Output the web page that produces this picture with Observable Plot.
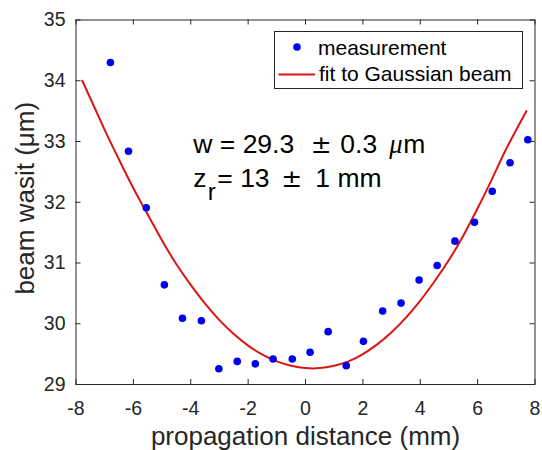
<!DOCTYPE html>
<html><head><meta charset="utf-8">
<script src="https://cdn.jsdelivr.net/npm/d3@7"></script>
<script src="https://cdn.jsdelivr.net/npm/@observablehq/plot@0.6"></script>
<style>
html,body{margin:0;padding:0;background:#fff;}
#chart svg{display:block;}
</style></head><body><div id="chart"></div>
<script>
// measured beam waist
const distance = [-6.80,-6.17,-5.55,-4.92,-4.29,-3.63,-3.02,-2.38,-1.75,-1.13,-0.46,0.16,0.79,1.42,2.02,2.69,3.33,3.96,4.59,5.21,5.89,6.51,7.13,7.75];
const waist    = [34.30,32.84,31.91,30.64,30.09,30.05,29.26,29.38,29.34,29.42,29.42,29.53,29.87,29.31,29.71,30.21,30.34,30.72,30.96,31.36,31.67,32.18,32.65,33.03];
// fitted Gaussian beam curve
const fitDistance = [-7.78,-7,-6.5,-6,-5.5,-5,-4.5,-4,-3.5,-3,-2.5,-2,-1.5,-1,-0.5,0,0.5,1,1.5,2,2.5,3,3.5,4,4.5,5,5.5,6,6.5,7,7.7];
const fitWaist    = [34.00,33.19,32.70,32.23,31.80,31.37,30.98,30.64,30.33,30.06,29.83,29.64,29.49,29.38,29.31,29.27,29.27,29.31,29.38,29.50,29.66,29.86,30.10,30.38,30.70,31.05,31.45,31.90,32.38,32.88,33.50];
const xTicks = [-8,-6,-4,-2,0,2,4,6,8];
const yTicks = [29,30,31,32,33,34,35];
const xLabel = "propagation distance (mm)";
const yLabel = "beam wasit (μm)";
const legendLabels = ["measurement", "fit to Gaussian beam"];

const W = 542, H = 450;
const mL = 75.5, mR = 7.5, mT = 19.5, mB = 66;
const pw = W - mL - mR, ph = H - mT - mB;
const tickLen = 5;
const axisColor = "#262626";
const red = "#dc1414", blue = "#0000f0";
const font = "'Liberation Sans', Arial, Helvetica, sans-serif";

const measured = distance.map((d, i) => ({x: d, y: waist[i]}));
const fit = fitDistance.map((d, i) => ({x: d, y: fitWaist[i]}));

const plot = Plot.plot({
  width: W, height: H,
  marginLeft: mL, marginRight: mR, marginTop: mT, marginBottom: mB,
  style: {fontFamily: font, background: "#fff", color: axisColor},
  x: {domain: [-8, 8]},
  y: {domain: [29, 35]},
  marks: [
    Plot.ruleX(xTicks, {x: d => d, insetTop: ph - tickLen, stroke: axisColor}),
    Plot.ruleX(xTicks, {x: d => d, insetBottom: ph - tickLen, stroke: axisColor}),
    Plot.ruleY(yTicks, {y: d => d, insetRight: pw - tickLen, stroke: axisColor}),
    Plot.ruleY(yTicks, {y: d => d, insetLeft: pw - tickLen, stroke: axisColor}),
    Plot.line(fit, {x: "x", y: "y", stroke: red, strokeWidth: 2, curve: "natural"}),
    Plot.dot(measured, {x: "x", y: "y", r: 3.8, fill: blue, stroke: "none"}),
    Plot.axisX(xTicks, {tickSize: 0, tickPadding: 17, fontSize: 19.5, label: null, tickFormat: d => String(d)}),
    Plot.axisY(yTicks, {tickSize: 0, tickPadding: 10.5, fontSize: 19.5, label: null, tickFormat: d => String(d)}),
    Plot.text([xLabel], {text: d => d, frameAnchor: "bottom", dy: 60, lineAnchor: "bottom", textAnchor: "middle", fontSize: 26, fill: axisColor}),
    Plot.text([yLabel], {text: d => d, frameAnchor: "left", dx: -42, dy: -4, rotate: -90, lineAnchor: "bottom", textAnchor: "middle", fontSize: 26, fill: axisColor, ariaLabel: "y-label"}),
    Plot.frame({stroke: axisColor, strokeWidth: 1})
  ]
});
document.getElementById("chart").appendChild(plot);

const svg = d3.select(plot);

// italic mu in y label
const yl = svg.select('g[aria-label="y-label"] text');
yl.text(null);
yl.append("tspan").text("beam wasit (");
yl.append("tspan").attr("font-family", "'Liberation Serif', serif").attr("font-style", "italic").text("μ");
yl.append("tspan").text("m)");

// legend
const lgX = 274, lgY = 31.5, lgW = 248, lgH = 57;
const lg = svg.append("g").attr("font-family", font).attr("text-anchor", "start");
lg.append("rect").attr("x", lgX + 0.5).attr("y", lgY).attr("width", lgW).attr("height", lgH)
  .attr("fill", "#fff").attr("stroke", axisColor).attr("stroke-width", 1);
lg.append("circle").attr("cx", lgX + 23).attr("cy", lgY + 15.5).attr("r", 3.8).attr("fill", blue);
lg.append("line").attr("x1", lgX + 4.5).attr("x2", lgX + 41).attr("y1", lgY + 43).attr("y2", lgY + 43)
  .attr("stroke", red).attr("stroke-width", 2);
lg.append("text").attr("x", lgX + 44).attr("y", lgY + 23).attr("font-size", 21).attr("fill", "#000").text(legendLabels[0]);
lg.append("text").attr("x", lgX + 45).attr("y", lgY + 49.5).attr("font-size", 21).attr("fill", "#000").text(legendLabels[1]);

// annotation
const ax = mL + 117.8;
const an = svg.append("g").attr("font-family", font).attr("font-size", 26.5).attr("fill", "#000").attr("text-anchor", "start");
const t1 = an.append("text").attr("x", ax).attr("y", 152.7);
t1.append("tspan").attr("x", ax).text("w = 29.3");
t1.append("tspan").attr("x", ax + 117.5).attr("font-family", "'DejaVu Sans', sans-serif").attr("font-size", 25).text("±");
t1.append("tspan").attr("x", ax + 147).text("0.3");
t1.append("tspan").attr("x", ax + 196).attr("font-family", "'Liberation Serif', serif").attr("font-style", "italic").text("μ");
t1.append("tspan").attr("x", ax + 210).text("m");
const t2 = an.append("text").attr("x", ax).attr("y", 186.7);
t2.append("tspan").attr("x", ax).text("z");
t2.append("tspan").attr("x", ax + 14.5).attr("dy", 13).attr("font-size", 24).text("r");
t2.append("tspan").attr("x", ax + 24).attr("dy", -13).text("= 13");
t2.append("tspan").attr("x", ax + 88).attr("font-family", "'DejaVu Sans', sans-serif").attr("font-size", 25).text("±");
t2.append("tspan").attr("x", ax + 122).text("1 mm");
</script></body></html>
